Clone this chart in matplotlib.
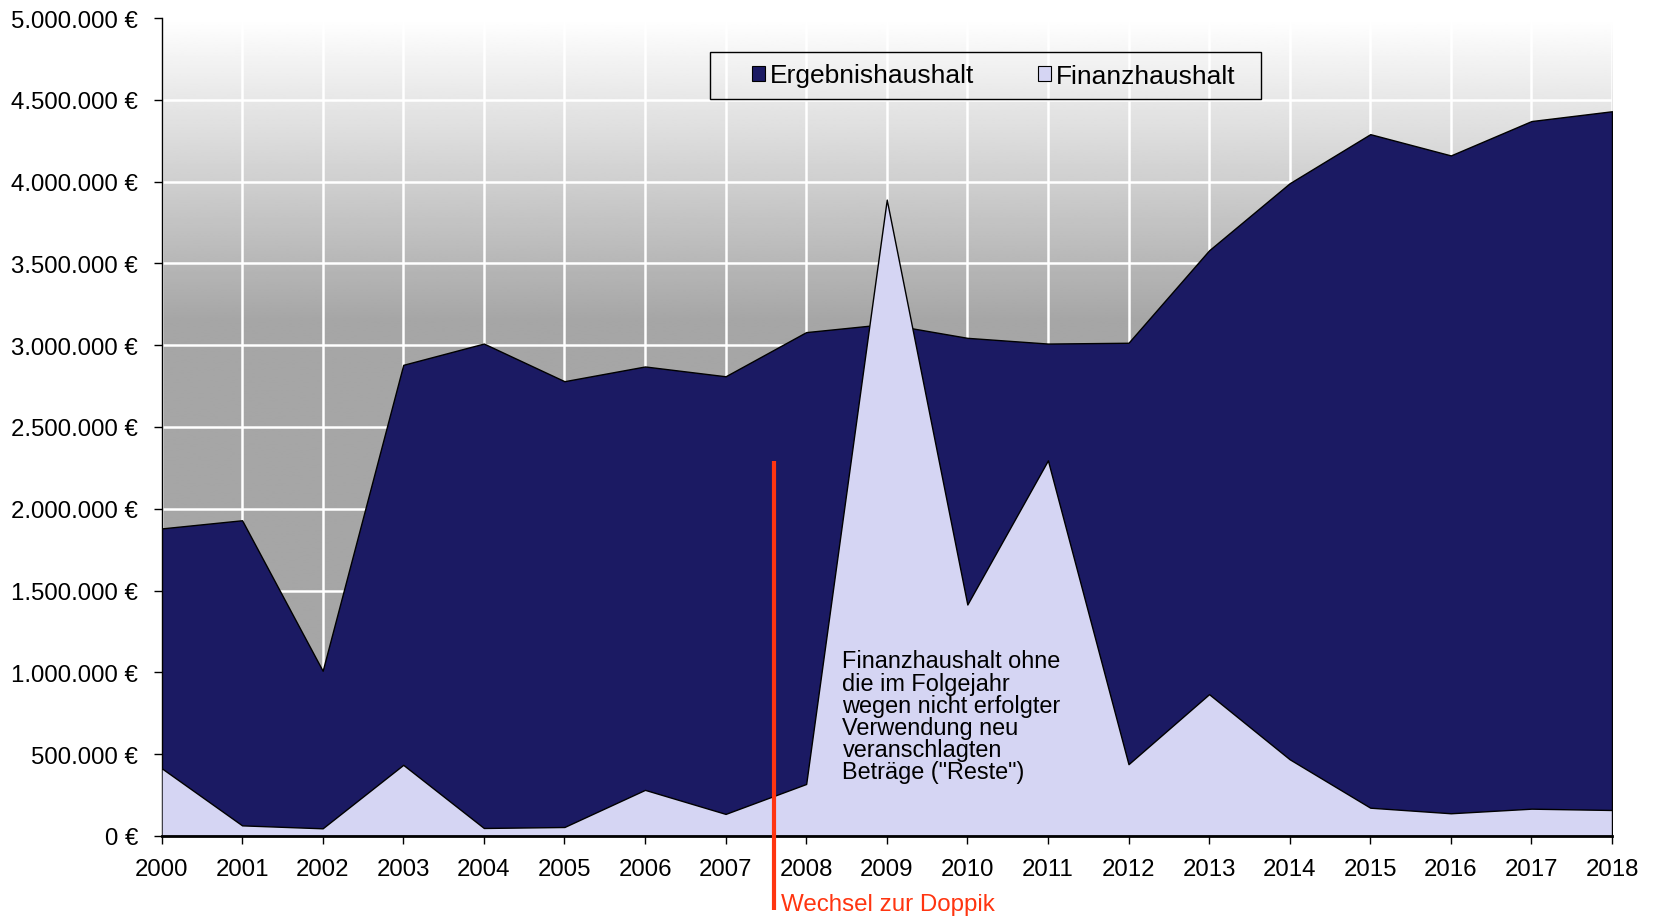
import numpy as np
import matplotlib
matplotlib.use("Agg")
import matplotlib.pyplot as plt
from matplotlib.patches import Patch, Rectangle
from matplotlib.ticker import FuncFormatter, MultipleLocator

plt.rcParams['font.family'] = ['Liberation Sans', 'DejaVu Sans']

years = list(range(2000, 2019))
ergebnishaushalt = [1880000, 1930000, 1010000, 2880000, 3010000, 2780000, 2870000,
                    2810000, 3080000, 3130000, 3045000, 3010000, 3015000, 3580000,
                    3990000, 4290000, 4160000, 4370000, 4430000]
finanzhaushalt = [415000, 65000, 47000, 435000, 49000, 55000, 282000, 135000,
                  318000, 3890000, 1415000, 2296000, 439000, 867000, 469000,
                  173000, 139000, 167000, 159000]
series_names = ["Ergebnishaushalt", "Finanzhaushalt"]
annotation = 'Finanzhaushalt ohne\ndie im Folgejahr\nwegen nicht erfolgter\nVerwendung neu\nveranschlagten\nBeträge ("Reste")'
doppik_label = "Wechsel zur Doppik"
doppik_year = 2007.6

col_erg = "#1B1A63"
col_fin = "#D5D5F3"
col_red = "#FF3510"

fig = plt.figure(figsize=(16.55, 9.2), dpi=100)
ax = fig.add_axes([161.5/1655, 1-837/920, (1612-161.5)/1655, (837-19)/920])

# gradient background: white at top fading to gray, constant below
n = 500
vals = np.linspace(5e6, 0, n)
t = np.clip((5e6 - vals) / (5e6 - 3.15e6), 0, 1)
grey = 1.0 - t * (1.0 - 0xA6/255)
img = np.repeat(grey[:, None], 2, axis=1)
ax.imshow(img, cmap='gray', vmin=0, vmax=1, extent=[2000, 2018, 0, 5e6],
          aspect='auto', zorder=0, interpolation='bilinear')

ax.fill_between(years, 0, ergebnishaushalt, facecolor=col_erg, edgecolor='black',
                linewidth=1.0, zorder=2)
ax.fill_between(years, 0, finanzhaushalt, facecolor=col_fin, edgecolor='black',
                linewidth=1.0, zorder=3)

ax.set_xlim(2000, 2018)
ax.set_ylim(0, 5e6)
ax.yaxis.set_major_locator(MultipleLocator(500000))
ax.yaxis.set_major_formatter(FuncFormatter(lambda v, p: f"{int(round(v)):,}".replace(",", ".") + " €"))
ax.set_xticks(years)
ax.set_xticklabels([str(y) for y in years])

ax.set_axisbelow(True)
ax.grid(True, color='white', linewidth=1.8)

for s in ['top', 'right']:
    ax.spines[s].set_visible(False)
ax.spines['left'].set_linewidth(1.0)
ax.spines['bottom'].set_linewidth(2.0)
ax.spines['bottom'].set_zorder(5)
ax.tick_params(axis='both', direction='out', length=6, width=1, labelsize=17.3)
ax.tick_params(axis='y', pad=11)
ax.tick_params(axis='x', pad=10)

# Doppik line and label
ax.plot([doppik_year, doppik_year], [2.29e6, -0.45e6], color=col_red, linewidth=3,
        clip_on=False, zorder=6, solid_capstyle='butt')
ax.text(doppik_year + 0.09, -0.418e6, doppik_label, color=col_red, fontsize=17.4,
        va='center', ha='left', clip_on=False)

ax.text(2008.45, 1.14e6, annotation, fontsize=16.9, va='top', ha='left',
        linespacing=0.95, color='black', zorder=7)

# legend frame drawn separately (wide inner padding like reference)
fig.patches.append(Rectangle((710/1655, 1-100.3/920), (1261-710)/1655, 47.5/920,
                             transform=fig.transFigure, facecolor='none',
                             edgecolor='black', linewidth=1.0, zorder=10))
handles = [Patch(facecolor=col_erg, edgecolor='black', linewidth=0.8),
           Patch(facecolor=col_fin, edgecolor='black', linewidth=0.8)]
leg = fig.legend(handles, series_names, loc='center left',
                 bbox_to_anchor=(751.5/1655, 1-76.5/920), ncol=2, fontsize=19,
                 handlelength=0.5, handleheight=0.5, handletextpad=0.2,
                 columnspacing=2.4, borderpad=0, borderaxespad=0,
                 frameon=False)

fig.savefig("out.png", dpi=100)
